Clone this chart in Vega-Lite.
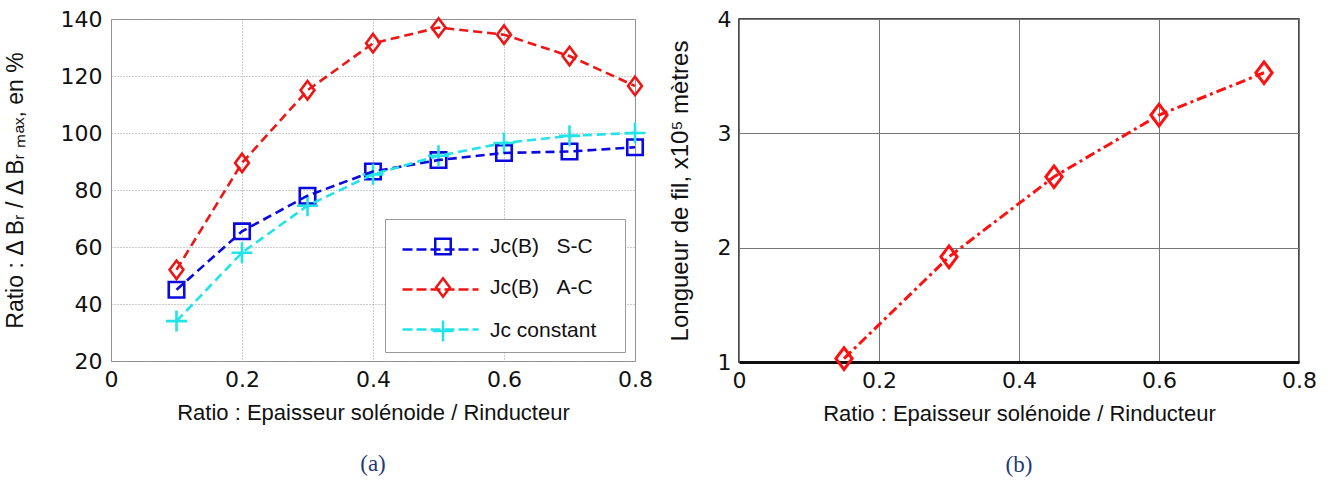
{
  "$schema": "https://vega.github.io/schema/vega-lite/v6.json",
  "background": "white",
  "padding": {"left": 3, "top": 7, "right": 4, "bottom": 2},
  "spacing": 14,
  "datasets": {
    "left": [
      {"x": 0.1, "y": 45, "series": "Jc(B)\u00a0\u00a0\u00a0S-C", "curve": "S-C"},
      {"x": 0.2, "y": 65.5, "series": "Jc(B)\u00a0\u00a0\u00a0S-C", "curve": "S-C"},
      {"x": 0.3, "y": 78, "series": "Jc(B)\u00a0\u00a0\u00a0S-C", "curve": "S-C"},
      {"x": 0.4, "y": 86.5, "series": "Jc(B)\u00a0\u00a0\u00a0S-C", "curve": "S-C"},
      {"x": 0.5, "y": 90.5, "series": "Jc(B)\u00a0\u00a0\u00a0S-C", "curve": "S-C"},
      {"x": 0.6, "y": 93, "series": "Jc(B)\u00a0\u00a0\u00a0S-C", "curve": "S-C"},
      {"x": 0.7, "y": 93.5, "series": "Jc(B)\u00a0\u00a0\u00a0S-C", "curve": "S-C"},
      {"x": 0.8, "y": 95, "series": "Jc(B)\u00a0\u00a0\u00a0S-C", "curve": "S-C"},
      {"x": 0.1, "y": 52, "series": "Jc(B)\u00a0\u00a0\u00a0A-C", "curve": "A-C"},
      {"x": 0.2, "y": 89.5, "series": "Jc(B)\u00a0\u00a0\u00a0A-C", "curve": "A-C"},
      {"x": 0.3, "y": 115, "series": "Jc(B)\u00a0\u00a0\u00a0A-C", "curve": "A-C"},
      {"x": 0.4, "y": 131.5, "series": "Jc(B)\u00a0\u00a0\u00a0A-C", "curve": "A-C"},
      {"x": 0.5, "y": 137, "series": "Jc(B)\u00a0\u00a0\u00a0A-C", "curve": "A-C"},
      {"x": 0.6, "y": 134.5, "series": "Jc(B)\u00a0\u00a0\u00a0A-C", "curve": "A-C"},
      {"x": 0.7, "y": 127, "series": "Jc(B)\u00a0\u00a0\u00a0A-C", "curve": "A-C"},
      {"x": 0.8, "y": 116.5, "series": "Jc(B)\u00a0\u00a0\u00a0A-C", "curve": "A-C"},
      {"x": 0.1, "y": 34, "series": "Jc constant", "curve": "const"},
      {"x": 0.2, "y": 58, "series": "Jc constant", "curve": "const"},
      {"x": 0.3, "y": 74.5, "series": "Jc constant", "curve": "const"},
      {"x": 0.4, "y": 85.5, "series": "Jc constant", "curve": "const"},
      {"x": 0.5, "y": 92, "series": "Jc constant", "curve": "const"},
      {"x": 0.6, "y": 96.5, "series": "Jc constant", "curve": "const"},
      {"x": 0.7, "y": 99, "series": "Jc constant", "curve": "const"},
      {"x": 0.8, "y": 100, "series": "Jc constant", "curve": "const"}
    ],
    "right": [
      {"x": 0.15, "y": 1.03},
      {"x": 0.3, "y": 1.92},
      {"x": 0.45, "y": 2.62},
      {"x": 0.6, "y": 3.16},
      {"x": 0.75, "y": 3.53}
    ]
  },
  "config": {
    "font": "Liberation Sans",
    "axis": {
      "labelFont": "DejaVu Sans",
      "titleFont": "Liberation Sans",
      "labelFontSize": 22,
      "titleFontSize": 22,
      "labelColor": "#111",
      "titleColor": "#111",
      "titleFontWeight": "normal",
      "labelFlush": false,
      "ticks": false
    },
    "legend": {
      "labelFont": "Liberation Sans",
      "labelFontSize": 21,
      "labelColor": "#111"
    }
  },
  "hconcat": [
    {
      "width": 524,
      "height": 342,
      "view": {"stroke": "#8c8c8c", "strokeWidth": 1},
      "title": {"text": "(a)", "orient": "bottom", "font": "Liberation Serif", "fontSize": 23, "fontWeight": "normal", "color": "#1F3A78", "offset": 30},
      "data": {"name": "left"},
      "encoding": {
        "x": {
          "field": "x", "type": "quantitative",
          "scale": {"domain": [0, 0.8], "nice": false, "zero": false},
          "axis": {
            "values": [0, 0.2, 0.4, 0.6, 0.8], "format": "~g",
            "title": "Ratio : Epaisseur solénoide / Rinducteur",
            "labelPadding": 8, "titlePadding": 12,
            "domain": false,
            "grid": true, "gridColor": "#9a9a9a", "gridDash": [1, 2], "gridWidth": 1
          }
        },
        "y": {
          "field": "y", "type": "quantitative",
          "scale": {"domain": [20, 140], "nice": false, "zero": false},
          "axis": {
            "values": [20, 40, 60, 80, 100, 120, 140],
            "title": "Ratio : Δ Bᵣ / Δ Bᵣ ₘₐₓ, en %",
            "titleFontSize": 23,
            "labelPadding": 9, "titlePadding": 34,
            "minExtent": 50, "maxExtent": 50,
            "domain": false,
            "grid": true, "gridColor": "#9a9a9a", "gridDash": [1, 2], "gridWidth": 1
          }
        }
      },
      "layer": [
        {
          "mark": {"type": "point", "filled": false, "strokeWidth": 2.6, "opacity": 1},
          "encoding": {
            "color": {
              "field": "series", "type": "nominal",
              "scale": {
                "domain": ["Jc(B)\u00a0\u00a0\u00a0S-C", "Jc(B)\u00a0\u00a0\u00a0A-C", "Jc constant"],
                "range": ["#0a0ae0", "#ee1515", "#22e3e8"]
              },
              "legend": {
                "title": "\u200b", "titleFontSize": 10, "titlePadding": 2,
                "orient": "none", "legendX": 274, "legendY": 200,
                "strokeColor": "#9a9a9a", "fillColor": "white", "padding": 5,
                "rowPadding": 13, "symbolOffset": 41, "labelOffset": 35,
                "symbolSize": 400, "symbolStrokeWidth": 2.5, "symbolFillColor": "white",
                "labelExpr": "datum.label + '\u00a0\u00a0\u00a0\u00a0\u200b'"
              }
            },
            "shape": {
              "field": "series", "type": "nominal",
              "scale": {
                "domain": ["Jc(B)\u00a0\u00a0\u00a0S-C", "Jc(B)\u00a0\u00a0\u00a0A-C", "Jc constant"],
                "range": ["square", "M0,-1L0.75,0L0,1L-0.75,0Z", "M-1,0H1M0,-1V1"]
              },
              "legend": {
                "title": "\u200b", "titleFontSize": 10, "titlePadding": 2,
                "orient": "none", "legendX": 274, "legendY": 200,
                "strokeColor": "#9a9a9a", "fillColor": "white", "padding": 5,
                "rowPadding": 13, "symbolOffset": 41, "labelOffset": 35,
                "symbolSize": 400, "symbolStrokeWidth": 2.5, "symbolFillColor": "white",
                "labelExpr": "datum.label + '\u00a0\u00a0\u00a0\u00a0\u200b'"
              }
            },
            "size": {
              "field": "series", "type": "nominal",
              "scale": {
                "domain": ["Jc(B)\u00a0\u00a0\u00a0S-C", "Jc(B)\u00a0\u00a0\u00a0A-C", "Jc constant"],
                "range": [240, 440, 250]
              },
              "legend": null
            }
          }
        },
        {
          "mark": {"type": "line", "strokeDash": [9, 5], "strokeWidth": 2.6},
          "encoding": {
            "stroke": {
              "field": "curve", "type": "nominal",
              "scale": {"domain": ["S-C", "A-C", "const"], "range": ["#0a0ae0", "#ee1515", "#22e3e8"]},
              "legend": {
                "title": "\u200b", "titleFontSize": 10, "titlePadding": 4,
                "orient": "none", "legendX": 274, "legendY": 200,
                "padding": 5, "rowPadding": 18, "symbolOffset": 41, "labelOffset": 35,
                "symbolSize": 400, "symbolType": "M-4,0H3.6", "symbolDash": [10, 4],
                "symbolStrokeWidth": 2.5, "symbolFillColor": "transparent",
                "labelExpr": "'\u00a0'", "labelOpacity": 0
              }
            }
          }
        }
      ]
    },
    {
      "width": 560,
      "height": 343,
      "view": {"stroke": "#111", "strokeWidth": 1.5},
      "title": {"text": "(b)", "orient": "bottom", "font": "Liberation Serif", "fontSize": 23, "fontWeight": "normal", "color": "#1F3A78", "offset": 30},
      "data": {"name": "right"},
      "encoding": {
        "x": {
          "field": "x", "type": "quantitative",
          "scale": {"domain": [0, 0.8], "nice": false, "zero": false},
          "axis": {
            "values": [0, 0.2, 0.4, 0.6, 0.8], "format": "~g",
            "title": "Ratio : Epaisseur solénoide / Rinducteur",
            "labelPadding": 8, "titlePadding": 12,
            "domain": true, "domainColor": "#111", "domainWidth": 3,
            "grid": true, "gridColor": "#777", "gridWidth": 1
          }
        },
        "y": {
          "field": "y", "type": "quantitative",
          "scale": {"domain": [1, 4], "nice": false, "zero": false},
          "axis": {
            "values": [1, 2, 3, 4], "format": "d",
            "title": "Longueur de fil, x10⁵ mètres",
            "titleFontSize": 24,
            "labelPadding": 8, "titlePadding": 24,
            "minExtent": 23, "maxExtent": 23,
            "domain": false,
            "grid": true, "gridColor": "#777", "gridWidth": 1
          }
        }
      },
      "layer": [
        {
          "mark": {"type": "line", "color": "#ff1010", "strokeDash": [10, 4, 3, 4], "strokeWidth": 3}
        },
        {
          "mark": {"type": "point", "filled": false, "color": "#ff1010", "strokeWidth": 3, "opacity": 1, "shape": "M0,-1L0.75,0L0,1L-0.75,0Z", "size": 470}
        }
      ]
    }
  ]
}
